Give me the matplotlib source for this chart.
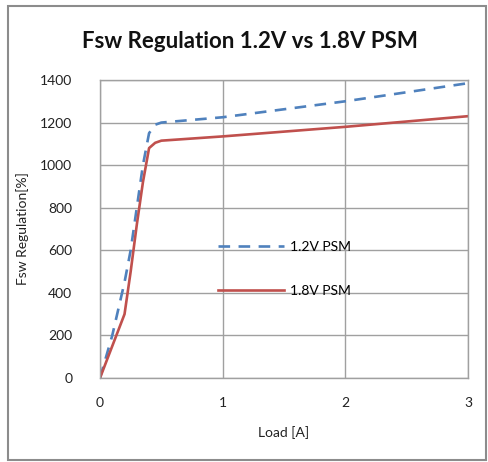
import matplotlib.pyplot as plt
from matplotlib.patches import Rectangle

# Data
load_12 = [0, 0.1, 0.2, 0.25, 0.3, 0.35, 0.4, 0.45, 0.5, 1.0, 2.0, 3.0]
fsw_12 = [0, 200, 450, 600, 800, 1000, 1150, 1190, 1200, 1225, 1300, 1385]

load_18 = [0, 0.1, 0.2, 0.25, 0.3, 0.35, 0.4, 0.45, 0.5, 1.0, 2.0, 3.0]
fsw_18 = [0, 150, 300, 500, 720, 920, 1080, 1105, 1115, 1135, 1180, 1230]

x_ticks = [0, 1, 2, 3]
y_ticks = [0, 200, 400, 600, 800, 1000, 1200, 1400]

plt.rcParams['font.family'] = ['Lato', 'DejaVu Sans']

W, H = 488, 462
fig = plt.figure(figsize=(W / 100, H / 100), dpi=100)
ax = fig.add_axes([100 / W, (H - 378) / H, 368 / W, 298 / H])

grid_col = '#a0a0a0'
ax.plot(load_12, fsw_12, color='#4f81bd', lw=1.9, linestyle=(0, (4.4, 3.2)),
        label='1.2V PSM')
ax.plot(load_18, fsw_18, color='#c0504d', lw=1.9, label='1.8V PSM')

ax.set_xlim(0, 3)
ax.set_ylim(0, 1400)
ax.set_xticks(x_ticks)
ax.set_yticks(y_ticks)
ax.tick_params(length=0, labelsize=10, colors='#222222')
ax.tick_params(axis='x', pad=14)
ax.tick_params(axis='y', pad=20)
ax.grid(True, color=grid_col, lw=1.0)
for s in ax.spines.values():
    s.set_color(grid_col)
    s.set_linewidth(1.0)

ax.set_xlabel('Load [A]', fontsize=10, labelpad=12, color='#222222')
ax.set_ylabel('Fsw Regulation[%]', fontsize=10, labelpad=8, color='#222222')
fig.text(250 / W, 1 - 42 / H, 'Fsw Regulation 1.2V vs 1.8V PSM', ha='center',
         va='center', fontsize=16, fontweight='bold', color='#111111')

ax.legend(loc='upper left', bbox_to_anchor=(0.32, 0.46), frameon=False,
          fontsize=10, handlelength=4.8, handletextpad=0.4, labelspacing=2.3,
          borderpad=0, borderaxespad=0)

fig.patches.append(Rectangle((8 / W, 2 / H), 478 / W, 454 / H, transform=fig.transFigure,
                             fill=False, edgecolor='#8c8c8c', lw=1.5))

fig.savefig('out.png', dpi=100)
